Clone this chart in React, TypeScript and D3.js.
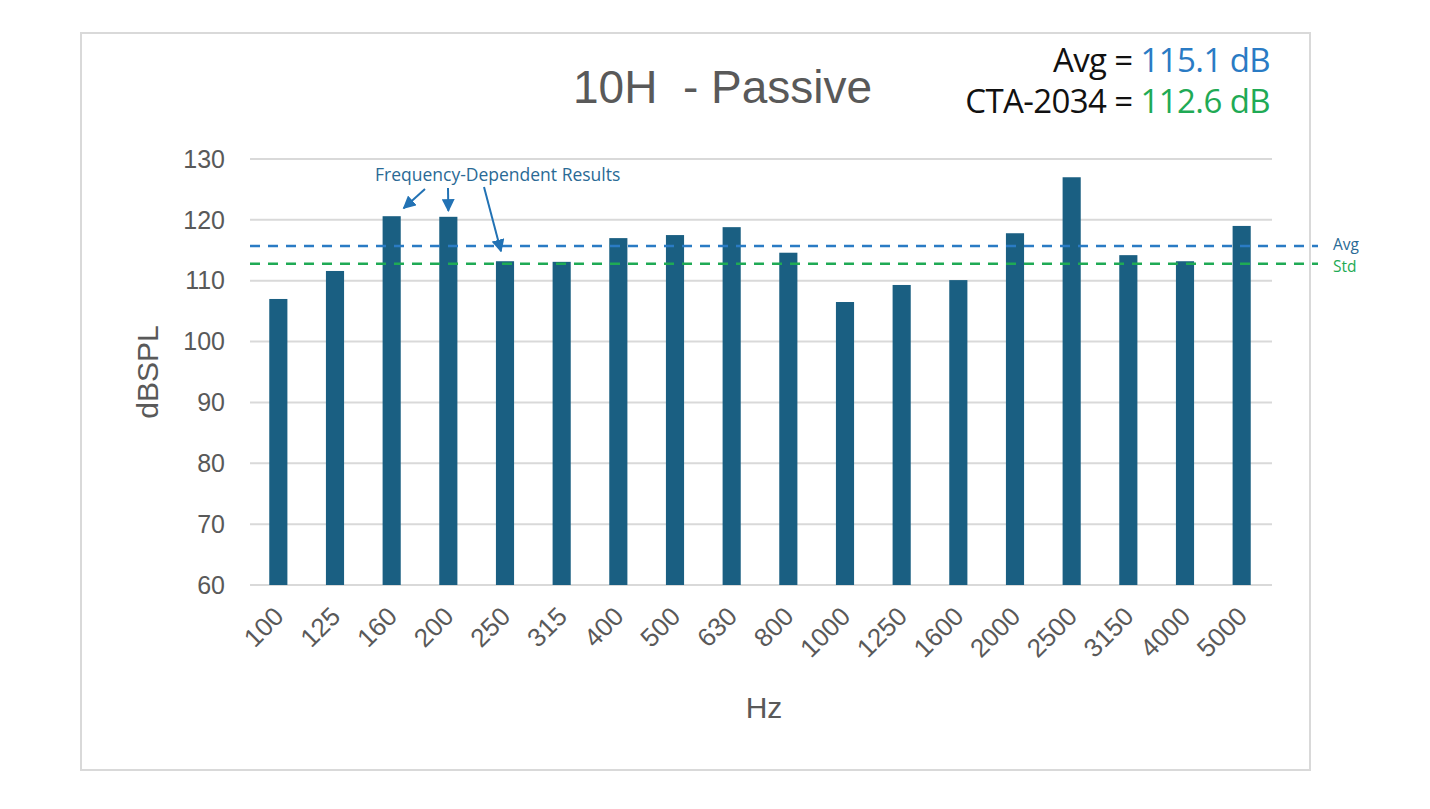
import { scaleBand, scaleLinear } from 'd3'

// 1/3-octave band sweep, max SPL per band, with average and CTA-2034 reference lines.
const freqs = ['100', '125', '160', '200', '250', '315', '400', '500', '630', '800', '1000', '1250', '1600', '2000', '2500', '3150', '4000', '5000']
const spl = [107.0, 111.6, 120.6, 120.5, 113.2, 113.1, 117.0, 117.5, 118.8, 114.6, 106.5, 109.3, 110.1, 117.8, 127.0, 114.2, 113.2, 119.0]
const yTicks = [60, 70, 80, 90, 100, 110, 120, 130]
const avgLine = 115.7
const stdLine = 112.8
const arrowBands = ['160', '200', '250']

const W = 1430
const H = 809
const BAR = '#1a5f82'
const BLUE = '#2a7bc4'
const GREEN = '#1faa55'
const ANNO = '#2a6a95'
const GRID = '#d9d9d9'
const TEXT = '#595959'
const SANS = "'Liberation Sans', Arial, sans-serif"
const MYR = "'Open Sans', 'Noto Sans', sans-serif"

export default function App() {
  const x = scaleBand<string>().domain(freqs).range([250, 1270]).paddingInner(0.68).paddingOuter(0.34)
  const y = scaleLinear().domain([60, 130]).range([585, 159])
  const cx = (f: string) => (x(f) ?? 0) + x.bandwidth() / 2

  // arrow tails sit under the annotation text; heads are offset from each bar's top
  const tails: [number, number][] = [
    [425, 189],
    [448, 188],
    [484, 187],
  ]
  const tipOffset: [number, number][] = [
    [12, -8],
    [0, -6],
    [-4, -10],
  ]

  return (
    <svg
      width={W}
      height={H}
      viewBox={`0 0 ${W} ${H}`}
      style={{ position: 'absolute', left: 0, top: 0, background: '#fff' }}
    >
      <defs>
        <marker id="head" viewBox="0 0 10 10" refX="9" refY="5" markerWidth="6.5" markerHeight="6.5" orient="auto">
          <path d="M0,0 L10,5 L0,10 z" fill="#2272b4" />
        </marker>
      </defs>
      <rect x={81} y={33} width={1229} height={737} fill="#fff" stroke="#d9d9d9" strokeWidth={2} />

      <text x={573} y={103} fontFamily={SANS} fontSize={46} fill={TEXT} style={{ whiteSpace: 'pre' }}>
        {'10H  - Passive'}
      </text>
      <g fontFamily={MYR} fontSize={33} textAnchor="end" style={{ letterSpacing: '-0.6px' }}>
        <text x={1270} y={72} fill="#111">
          Avg = <tspan fill={BLUE}>115.1 dB</tspan>
        </text>
        <text x={1270} y={113} fill="#111">
          CTA-2034 = <tspan fill={GREEN}>112.6 dB</tspan>
        </text>
      </g>

      {yTicks.map((t) => (
        <g key={t}>
          <line x1={250} x2={1272} y1={y(t)} y2={y(t)} stroke={GRID} strokeWidth={2} />
          <text x={225} y={y(t)} dy="0.35em" textAnchor="end" fontFamily={SANS} fontSize={25} fill={TEXT}>
            {t}
          </text>
        </g>
      ))}

      {freqs.map((f, i) => (
        <rect key={f} x={x(f)} y={y(spl[i])} width={x.bandwidth()} height={y(60) - y(spl[i])} fill={BAR} />
      ))}

      <line x1={250} x2={1318} y1={y(avgLine)} y2={y(avgLine)} stroke={BLUE} strokeWidth={2.5} strokeDasharray="10 8" />
      <line x1={250} x2={1318} y1={y(stdLine)} y2={y(stdLine)} stroke={GREEN} strokeWidth={2.5} strokeDasharray="10 8" />
      <g fontFamily={MYR} fontSize={15.5}>
        <text x={1333} y={y(avgLine) + 4} fill={ANNO}>Avg</text>
        <text x={1333} y={y(stdLine) + 8} fill={GREEN}>Std</text>
      </g>

      <text x={375} y={181} fontFamily={MYR} fontSize={17.5} fill={ANNO}>
        Frequency-Dependent Results
      </text>
      {arrowBands.map((f, i) => {
        const v = spl[freqs.indexOf(f)]
        return (
          <line
            key={f}
            x1={tails[i][0]}
            y1={tails[i][1]}
            x2={cx(f) + tipOffset[i][0]}
            y2={y(v) + tipOffset[i][1]}
            stroke="#2272b4"
            strokeWidth={2}
            markerEnd="url(#head)"
          />
        )
      })}

      {freqs.map((f) => (
        <text
          key={f}
          transform={`translate(${cx(f) + 7},${618}) rotate(-45)`}
          textAnchor="end"
          fontFamily={SANS}
          fontSize={26}
          fill={TEXT}
        >
          {f}
        </text>
      ))}

      <text transform="translate(158,372) rotate(-90)" textAnchor="middle" fontFamily={SANS} fontSize={30} fill={TEXT}>
        dBSPL
      </text>
      <text x={764} y={718} textAnchor="middle" fontFamily={SANS} fontSize={30} fill={TEXT}>
        Hz
      </text>
    </svg>
  )
}
